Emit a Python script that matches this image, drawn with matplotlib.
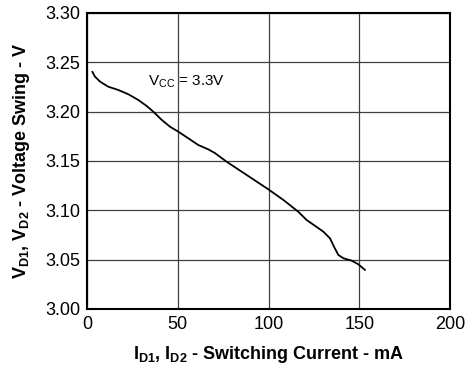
import matplotlib
matplotlib.use("Agg")
import matplotlib.pyplot as plt

plt.rcParams['font.family'] = ['Liberation Sans', 'DejaVu Sans']
plt.rcParams['mathtext.fontset'] = 'custom'
plt.rcParams['mathtext.rm'] = 'Liberation Sans'
plt.rcParams['mathtext.bf'] = 'Liberation Sans:bold'

# Output voltage swing vs switching current (Vcc = 3.3 V)
current_ma = [2.9, 4.4, 7.2, 11.7, 17.2, 22.8, 28.3, 32.9, 36.5, 41.2, 45.7,
              50.3, 55.8, 61.3, 66.8, 70.5, 76.9, 86.1, 99.9, 108.2, 116.4,
              121.0, 130.2, 133.9, 136.1, 138.5, 141.3, 145.8, 149.5, 153.2]
swing_v = [3.2405, 3.2355, 3.2304, 3.2253, 3.2220, 3.2176, 3.2118, 3.2057,
           3.2000, 3.1916, 3.1848, 3.1797, 3.1730, 3.1662, 3.1618, 3.1580,
           3.1493, 3.1381, 3.1213, 3.1105, 3.0986, 3.0902, 3.0784, 3.0716,
           3.0631, 3.0547, 3.0514, 3.0490, 3.0453, 3.0395]

x_ticks = [0, 50, 100, 150, 200]
y_ticks = [3.00, 3.05, 3.10, 3.15, 3.20, 3.25, 3.30]

fig = plt.figure(figsize=(4.67, 3.70), dpi=100)
ax = fig.add_axes([0.1863, 0.1649, 0.7773, 0.8])

ax.plot(current_ma, swing_v, color='black', linewidth=1.3,
        solid_joinstyle='round', solid_capstyle='round')

ax.set_xlim(0, 200)
ax.set_ylim(3.00, 3.30)
ax.set_xticks(x_ticks)
ax.set_yticks(y_ticks)
ax.set_yticklabels([f'{v:.2f}' for v in y_ticks])
ax.tick_params(length=0, labelsize=13, pad=5)
ax.grid(True, color='#404040', linewidth=0.9)
for s in ax.spines.values():
    s.set_linewidth(1.5)
    s.set_color('black')

ax.text(33.6, 3.2306, r'V$_{\mathrm{CC}}$ = 3.3V', fontsize=11, va='center', ha='left')

ax.set_xlabel(r'$\mathbf{I_{D1}}$, $\mathbf{I_{D2}}$ - Switching Current - mA',
              fontsize=13, fontweight='bold', labelpad=8)
ax.set_ylabel(r'$\mathbf{V_{D1}}$, $\mathbf{V_{D2}}$ - Voltage Swing - V',
              fontsize=13, fontweight='bold', labelpad=9)

fig.savefig('out.png', dpi=100)
